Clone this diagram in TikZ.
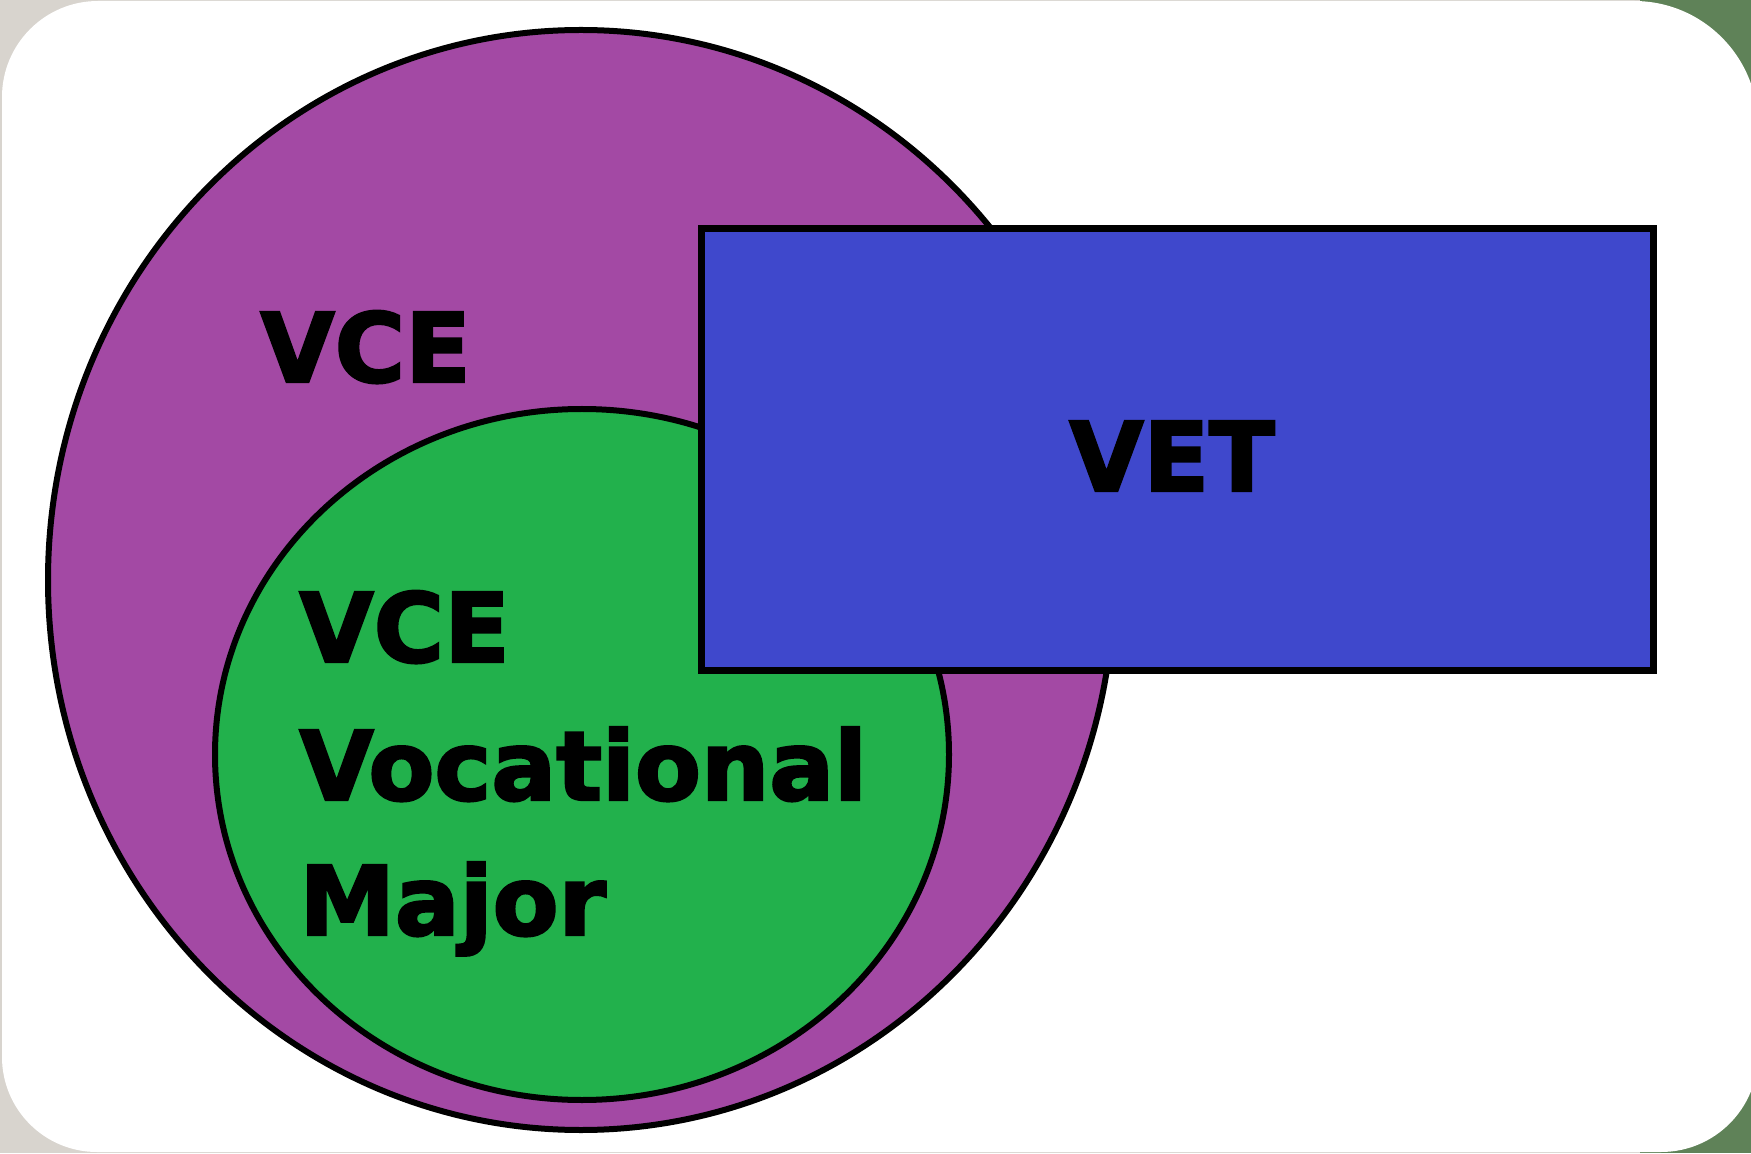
\documentclass[tikz,border=0pt]{standalone}
\usepackage{fontspec}
\setmainfont{DejaVu Sans}[BoldFeatures={FakeBold=2.5}]
\definecolor{bggrey}{HTML}{D8D4CE}
\definecolor{bggreen}{HTML}{5F8258}
\definecolor{vcepurple}{HTML}{A349A4}
\definecolor{vmgreen}{HTML}{22B14C}
\definecolor{vetblue}{HTML}{3F48CC}
\tikzset{
  setbox/.style={draw=black, line width=3pt},
  vetbox/.style={draw=black, line width=3.5pt, fill=vetblue},
  biglabel/.style={inner sep=0pt, font=\fontsize{48}{48}\selectfont\bfseries, text=black},
}
\begin{document}
\begin{tikzpicture}[x=0.5pt, y=0.5pt]
  \useasboundingbox (0,0) rectangle (1751,1153);
  \clip (0,0) rectangle (1751,1153);
  % background and card
  \fill[bggrey] (0,0) rectangle (1751,1153);
  \fill[bggreen] (1640,0) rectangle (1751,1153);
  \fill[white] (2,96) -- (2,1056) arc (180:90:96) -- (1634,1152) arc (90:0:124)
     -- (1758,98) arc (0:-90:97) -- (97,1) arc (270:180:95) -- cycle;
  % sets
  \draw[setbox, fill=vcepurple] (581,573) ellipse [x radius=533, y radius=550];
  \draw[setbox, fill=vmgreen] (582,398.5) ellipse [x radius=367, y radius=345.5];
  \draw[vetbox] (701,483) rectangle (1653,924);
  % labels
  \node[biglabel, anchor=base west] (vce) at (260,771) {VCE};
  \node[biglabel, anchor=base] (vet) at (1172,662) {VET};
  \node[biglabel, anchor=base west] (vm1) at (299,491) {VCE};
  \node[biglabel, anchor=base west] (vm2) at (299,353) {Vocational};
  \node[biglabel, anchor=base west] (vm3) at (299,218) {Major};
\end{tikzpicture}
\end{document}
